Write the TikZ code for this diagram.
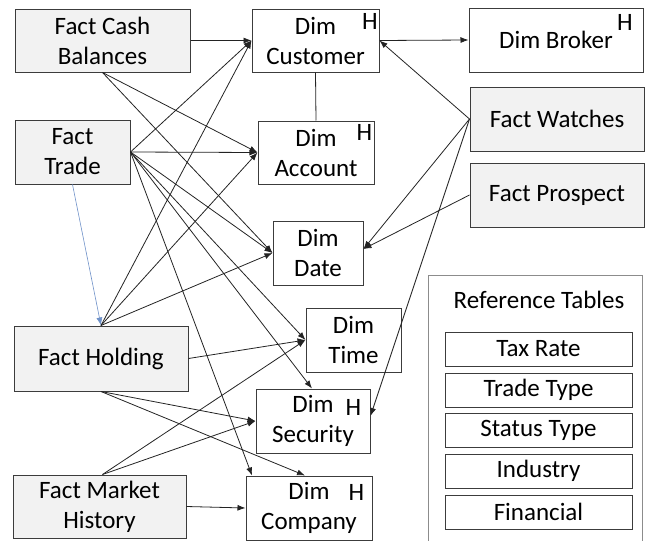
\documentclass[tikz,border=0pt]{standalone}
\usepackage{fontspec}
\setmainfont{Carlito}
\usetikzlibrary{arrows.meta}
\definecolor{factgray}{RGB}{242,242,242}
\definecolor{boxline}{RGB}{60,60,60}
\definecolor{linkgray}{RGB}{35,35,35}
\definecolor{linkblue}{RGB}{110,145,200}

\begin{document}
\begin{tikzpicture}[x=1pt,y=-1pt,font=\fontsize{25}{30}\selectfont,
  fact/.style={draw=boxline,fill=factgray,line width=1pt,align=center,inner sep=2pt},
  dim/.style={draw=boxline,fill=white,line width=1pt,align=center,inner sep=2pt},
  hmark/.style={inner sep=0pt},
  link/.style={draw=linkgray,line width=0.8pt,-{Latex[length=8pt,width=6pt]}}]
\useasboundingbox (0,0) rectangle (646,541);

% fact tables
\node[fact,minimum width=175pt,minimum height=63pt] (cash) at (102.5,40.5) {Fact Cash\\Balances};
\node[fact,minimum width=115pt,minimum height=64pt] (trade) at (72.5,152) {Fact\\Trade};
\node[fact,minimum width=174pt,minimum height=65pt] (holding) at (101,358.5) {Fact Holding};
\node[fact,minimum width=173pt,minimum height=63pt] (market) at (99.5,506.5) {Fact Market\\History};
\node[fact,minimum width=174pt,minimum height=64pt] (watches) at (557,119) {Fact Watches};
\node[fact,minimum width=174pt,minimum height=64pt] (prospect) at (557,195) {Fact Prospect};

% dimension tables
\node[dim,minimum width=127pt,minimum height=63pt] (cust) at (315.5,40.5) {Dim\\Customer};
\node[dim,minimum width=174pt,minimum height=64pt] (broker) at (556,40) {Dim Broker};
\node[dim,minimum width=116pt,minimum height=63pt] (account) at (316,152.5) {Dim\\Account};
\node[dim,minimum width=90pt,minimum height=64pt] (date) at (318,253) {Dim\\Date};
\node[dim,minimum width=95pt,minimum height=64pt] (time) at (353.5,340) {Dim\\Time};
\node[dim,minimum width=114pt,minimum height=64pt] (security) at (313,421) {Dim\\Security};
\node[dim,minimum width=126pt,minimum height=64pt] (company) at (309,508) {Dim\\Company};

% history marks
\node[hmark] (custh) at (370,21) {H};
\node[hmark] (brokerh) at (625,22.5) {H};
\node[hmark] (accounth) at (364.5,132.5) {H};
\node[hmark] (securityh) at (353.5,407.5) {H};
\node[hmark] (companyh) at (356.5,492.5) {H};

% reference tables
\draw[draw=black!45,line width=1pt] (428,560) -- (428,275) -- (642,275) -- (642,560);
\node (reftitle) at (539,300) {Reference Tables};
\node[dim,minimum width=187pt,minimum height=34pt] (taxrate) at (538.5,349) {Tax Rate};
\node[dim,minimum width=187pt,minimum height=34pt] (tradetype) at (538.5,390) {Trade Type};
\node[dim,minimum width=187pt,minimum height=34pt] (statustype) at (538.5,430) {Status Type};
\node[dim,minimum width=187pt,minimum height=34pt] (industry) at (538.5,471) {Industry};
\node[dim,minimum width=187pt,minimum height=34pt] (financial) at (538.5,512) {Financial};

% links
\draw[link] (cash.east) -- (cust.west);
\draw[link] (cash.south) -- (account.west);
\draw[link] (cash.south) -- (date.west);
\draw[link] (trade.east) -- (cust.west);
\draw[link] (trade.east) -- (account.west);
\draw[link] (trade.east) -- (date.west);
\draw[link] (trade.east) -- (time.west);
\draw[link] (trade.east) -- ([xshift=-1pt]security.north);
\draw[link] (trade.east) -- ([xshift=-57pt]company.north);
\draw[link,draw=linkblue,line width=0.6pt] (trade.south) -- (holding.north);
\draw[link] (holding.north) -- (cust.west);
\draw[link] (holding.north) -- (account.west);
\draw[link] (holding.north) -- (date.west);
\draw[link] (holding.east) -- (time.west);
\draw[link] (holding.south) -- (security.west);
\draw[link] (holding.south) -- ([xshift=-4pt]company.north);
\draw[link] ([xshift=3pt]market.north) -- (time.west);
\draw[link] ([xshift=3pt]market.north) -- (security.west);
\draw[link] (market.east) -- (company.west);
\draw[link] (cust.east) -- (broker.west);
\draw[link] (watches.west) -- (cust.east);
\draw[link] (watches.west) -- ([yshift=4pt]date.east);
\draw[link] (prospect.west) -- ([yshift=4pt]date.east);
\draw[link] (watches.west) -- ([yshift=5pt]security.east);
\draw[draw=linkgray,line width=0.8pt] (cust.south) -- (account.north);
\end{tikzpicture}
\end{document}
